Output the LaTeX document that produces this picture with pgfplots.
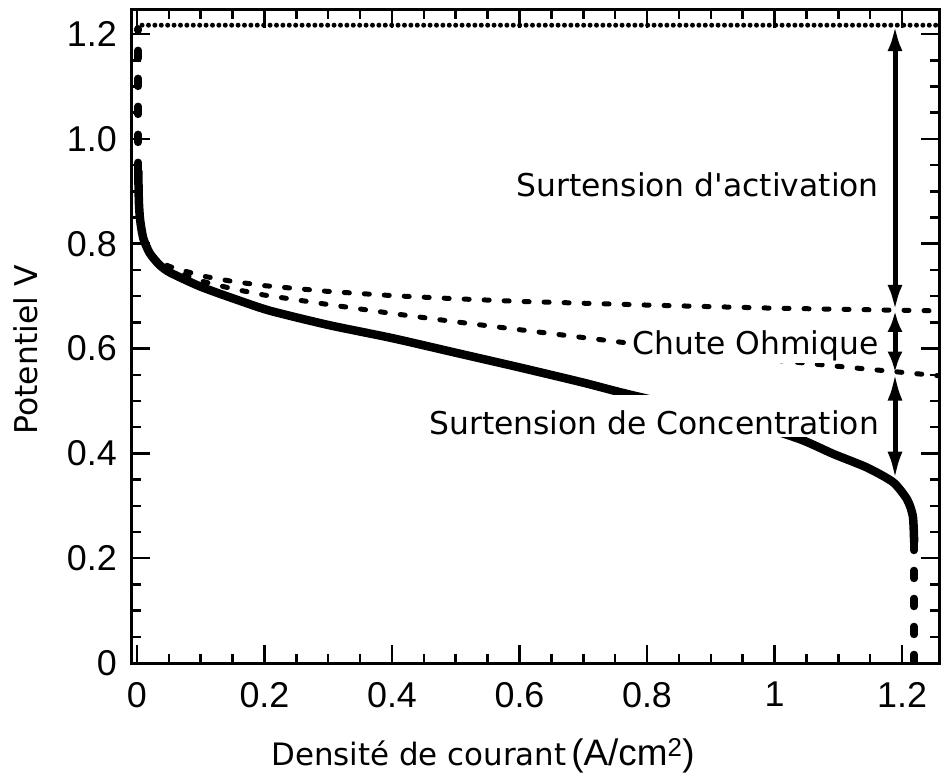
\documentclass[border=0pt]{standalone}
\usepackage{pgfplots}
\pgfplotsset{compat=1.18}
\usepackage{fontspec}
\setmainfont{DejaVu Sans}
\newfontfamily\helv{Liberation Sans}
\usetikzlibrary{arrows.meta}

\begin{document}
\begin{tikzpicture}
\begin{axis}[
  at={(0,0)}, anchor=south west,
  scale only axis, width=807bp, height=653bp,
  xmin=-0.0078, xmax=1.258, ymin=0, ymax=1.246,
  axis line style={line width=3bp},
  tick style={line width=2.5bp, black},
  major tick length=18bp, minor tick length=9bp,
  tick align=inside,
  xtick={0,0.2,0.4,0.6,0.8,1,1.2},
  xticklabels={0,0.2,0.4,0.6,0.8,1,1.2},
  ytick={0,0.2,0.4,0.6,0.8,1,1.2},
  yticklabels={0,0.2,0.4,0.6,0.8,1.0,1.2},
  minor x tick num=3, minor y tick num=3,
  tick label style={font=\helv\fontsize{36}{36}\selectfont, inner sep=0pt},
  xticklabel shift=19bp, yticklabel shift=15bp,
]
% activation only
\addplot[line width=5bp, dash pattern=on 5bp off 15bp, line cap=round] coordinates {
  (0.02,0.778) (0.05,0.757) (0.1,0.739) (0.15,0.728) (0.2,0.72) (0.3,0.709)
  (0.4,0.701) (0.5,0.695) (0.6,0.69) (0.8,0.683) (1.0,0.677) (1.2,0.673) (1.258,0.672)
};
% activation + ohmic
\addplot[line width=5bp, dash pattern=on 5bp off 15bp, line cap=round] coordinates {
  (0.02,0.778) (0.05,0.752) (0.1,0.729) (0.15,0.714) (0.2,0.702) (0.3,0.684)
  (0.4,0.667) (0.5,0.651) (0.6,0.636) (0.8,0.606) (1.0,0.578) (1.1,0.566) (1.258,0.548)
};
% open circuit voltage
\addplot[line width=5bp, dash pattern=on 0bp off 6.4bp, line cap=round] coordinates {
  (0.008,1.217) (1.258,1.217)
};
% polarisation curve
\addplot[line width=8.5bp, line join=round, smooth, tension=0.4] coordinates {
  (0.002,0.94) (0.003,0.88) (0.005,0.845) (0.01,0.81) (0.02,0.782) (0.035,0.76)
  (0.052,0.745) (0.1,0.718) (0.157,0.693) (0.209,0.672) (0.3,0.645) (0.4,0.62)
  (0.5,0.592) (0.6,0.564) (0.7,0.535) (0.76,0.516) (0.85,0.49) (0.95,0.462)
  (1.04,0.427) (1.092,0.399) (1.145,0.373) (1.186,0.345) (1.208,0.312)
  (1.217,0.28) (1.219,0.23)
};
\addplot[line width=7.5bp, dash pattern=on 8bp off 20bp, line cap=round] coordinates {
  (0.002,0.94) (0.002,1.21)
};
\addplot[line width=7.5bp, dash pattern=on 8bp off 20bp, line cap=round] coordinates {
  (1.219,0.23) (1.219,0.0)
};

\tikzset{lbl/.style={anchor=base east, fill=white, font=\fontsize{31.5}{36}\selectfont}}
\node[lbl, inner sep=2bp] at (axis cs:1.167,0.8895) {Surtension d\textquotesingle activation};
\node[lbl, inner sep=2bp] at (axis cs:1.167,0.5886) {Chute Ohmique};
\node[lbl, inner sep=0pt, text height=40bp, text depth=2bp] at (axis cs:1.164,0.436) {Surtension de Concentration};

\addplot[line width=5bp, {Latex[length=26bp,width=15bp]}-{Latex[length=26bp,width=15bp]}] coordinates {
  (1.189,1.217) (1.189,0.672)
};
\addplot[line width=5bp, {Latex[length=21bp,width=15bp]}-{Latex[length=21bp,width=15bp]}] coordinates {
  (1.189,0.672) (1.189,0.554)
};
\addplot[line width=5bp, {Latex[length=28bp,width=15bp]}-{Latex[length=28bp,width=15bp]}] coordinates {
  (1.189,0.554) (1.189,0.35)
};
\end{axis}

\node[anchor=base, font=\fontsize{31}{36}\selectfont] at (351bp,-102bp)
  {Densité de courant\hspace{5bp}{\helv\fontsize{37}{37}\selectfont(A/cm\textsuperscript{2})}};
\node[rotate=90, anchor=center, font=\fontsize{31.5}{36}\selectfont] at (-106bp,313bp) {Potentiel V};

\pgfresetboundingbox
\useasboundingbox (-132bp,-115bp) rectangle (810bp,663bp);
\end{tikzpicture}
\end{document}
